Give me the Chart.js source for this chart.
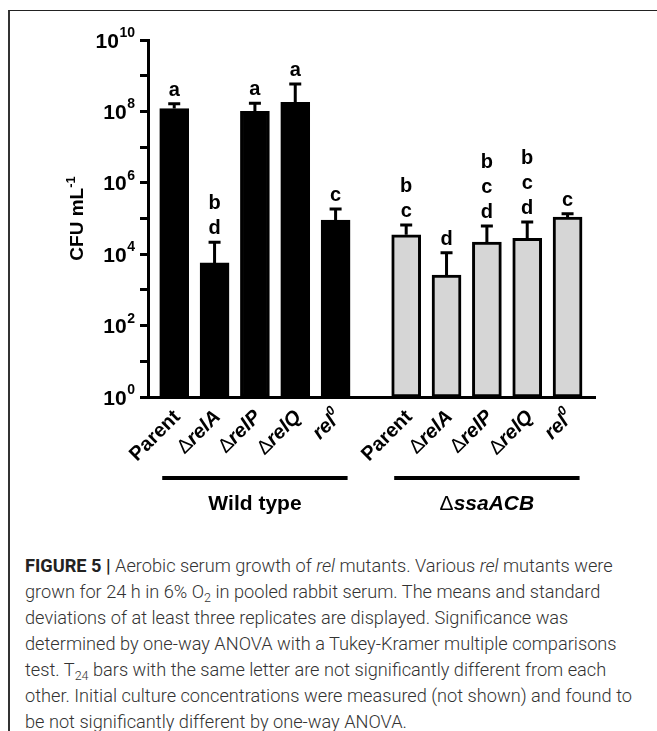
<!DOCTYPE html>
<html>
<head>
<meta charset="utf-8">
<script src="https://cdn.jsdelivr.net/npm/chart.js@4.4.1/dist/chart.umd.min.js"></script>
<style>
  html, body { margin: 0; padding: 0; background: #fff; }
  body { width: 657px; height: 731px; position: relative; overflow: hidden; }
  #frame { position: absolute; left: 8px; top: 10px; width: 700px; height: 800px;
           border-left: 2px solid #333; border-top: 1px solid #222; }
  #chart { position: absolute; left: 0; top: 0; }
  #caption { position: absolute; left: 25px; top: 553px; font-family: Roboto, 'Liberation Sans', sans-serif;
             font-weight: 300; font-size: 18.2px; line-height: 26px; color: #333; white-space: nowrap; }
  #caption b { font-weight: 700; color: #222; }
  #caption sub { font-size: 12.5px; line-height: 0; vertical-align: -4px; }
</style>
</head>
<body>
<div id="frame"></div>
<canvas id="chart" width="657" height="540"></canvas>
<div id="caption">
  <b>FIGURE 5 |</b> Aerobic serum growth of <i>rel</i> mutants. Various <i>rel</i> mutants were<br>
  grown for 24 h in 6% O<sub>2</sub> in pooled rabbit serum. The means and standard<br>
  deviations of at least three replicates are displayed. Significance was<br>
  determined by one-way ANOVA with a Tukey-Kramer multiple comparisons<br>
  test. T<sub>24</sub> bars with the same letter are not significantly different from each<br>
  other. Initial culture concentrations were measured (not shown) and found to<br>
  be not significantly different by one-way ANOVA.
</div>
<script>
// Strains shown in each group
const strains = ['Parent', 'ΔrelA', 'ΔrelP', 'ΔrelQ', 'rel⁰'];
const groups = ['Wild type', 'ΔssaACB'];

// CFU/mL means and standard deviations
const wildTypeMeans = [1.2e8, 5.7e3, 1.0e8, 1.8e8, 9.1e4];
const wildTypeSD = [4.3e7, 1.6e4, 7.0e7, 4.1e8, 9.4e4];
const ssaMeans = [3.5e4, 2.6e3, 2.2e4, 2.8e4, 1.1e5];
const ssaSD = [3.1e4, 8.4e3, 4.0e4, 5.2e4, 2.5e4];

// Tukey-Kramer letters, top to bottom
const wildTypeLetters = [['a'], ['b', 'd'], ['a'], ['a'], ['c']];
const ssaLetters = [['b', 'c'], ['d'], ['b', 'c', 'd'], ['b', 'c', 'd'], ['c']];

// Decades on the y axis, and which of them get a label
const yDecades = [0, 1, 2, 3, 4, 5, 6, 7, 8, 9, 10];
const yLabelled = [0, 2, 4, 6, 8, 10];

const FONT = "'Liberation Sans', Arial, sans-serif";
const GROUP_GAP = 0.75; // extra slots between the two groups

const means = [...wildTypeMeans, ...ssaMeans];
const sds = [...wildTypeSD, ...ssaSD];
const letters = [...wildTypeLetters, ...ssaLetters];
const groupOf = means.map((_, i) => Math.floor(i / strains.length));
const points = means.map((m, i) => ({
    x: groupOf[i] * (strains.length + GROUP_GAP) + (i % strains.length),
    y: m
}));

// Draw a label made of styled pieces, right end (or centre) at the origin
function drawPieces(ctx, pieces, align) {
    let total = 0;
    pieces.forEach(p => { ctx.font = p.font; p.w = ctx.measureText(p.t).width; total += p.w; });
    let x = align === 'center' ? -total / 2 : -total;
    pieces.forEach(p => {
        ctx.font = p.font;
        ctx.fillText(p.t, x, p.dy || 0);
        x += p.w;
    });
}

function strainPieces(name, size) {
    const pieces = [];
    for (const ch of name) {
        if (ch === 'Δ') pieces.push({ t: ch, font: `normal ${size}px ${FONT}` });
        else if (ch === '⁰') pieces.push({ t: '0', font: `italic bold ${Math.round(size * 0.65)}px ${FONT}`, dy: -size * 0.38 });
        else if (name === 'Parent') pieces.push({ t: ch, font: `bold ${size}px ${FONT}` });
        else pieces.push({ t: ch, font: `italic bold ${size}px ${FONT}` });
    }
    return pieces;
}

const decorations = {
    id: 'decorations',
    afterDatasetsDraw(chart) {
        const ctx = chart.ctx;
        const y = chart.scales.y;
        const bars = chart.getDatasetMeta(0).data;

        ctx.save();
        ctx.fillStyle = '#000';
        ctx.strokeStyle = '#000';

        // Upward error bars and significance letters
        bars.forEach((bar, i) => {
            const top = y.getPixelForValue(means[i] + sds[i]);
            ctx.lineWidth = 3;
            ctx.beginPath();
            ctx.moveTo(bar.x, bar.y);
            ctx.lineTo(bar.x, top);
            ctx.moveTo(bar.x - 6, top);
            ctx.lineTo(bar.x + 6, top);
            ctx.stroke();

            ctx.font = `bold 20px ${FONT}`;
            ctx.textAlign = 'center';
            ctx.textBaseline = 'alphabetic';
            const stack = letters[i];
            stack.forEach((l, k) => {
                ctx.fillText(l, bar.x, top - 8 - (stack.length - 1 - k) * 25);
            });
        });

        // Rotated strain labels
        ctx.textAlign = 'left';
        ctx.textBaseline = 'middle';
        bars.forEach((bar, i) => {
            ctx.save();
            ctx.translate(bar.x + 3, 414);
            ctx.rotate(-Math.PI / 4);
            drawPieces(ctx, strainPieces(strains[i % strains.length], 20), 'right');
            ctx.restore();
        });

        // Group underlines and names
        groups.forEach((g, gi) => {
            const first = bars[gi * strains.length];
            const last = bars[gi * strains.length + strains.length - 1];
            ctx.lineWidth = 4;
            ctx.beginPath();
            ctx.moveTo(first.x - 12, 478);
            ctx.lineTo(last.x + 12, 478);
            ctx.stroke();
            ctx.save();
            ctx.translate((first.x + last.x) / 2, 504);
            const pieces = [];
            for (const ch of g) {
                if (ch === 'Δ') pieces.push({ t: ch, font: `normal 21px ${FONT}` });
                else pieces.push({ t: ch, font: `${gi === 1 ? 'italic ' : ''}bold 21px ${FONT}` });
            }
            drawPieces(ctx, pieces, 'center');
            ctx.restore();
        });

        // Y tick labels as 10 with a raised exponent
        ctx.textBaseline = 'alphabetic';
        ctx.textAlign = 'left';
        const right = y.right - 8 - 5;
        yLabelled.forEach(e => {
            const py = y.getPixelForValue(Math.pow(10, e));
            ctx.font = `bold 14px ${FONT}`;
            const ew = ctx.measureText(String(e)).width;
            ctx.fillText(String(e), right - ew, py - 3);
            ctx.font = `bold 21px ${FONT}`;
            const bw = ctx.measureText('10').width;
            ctx.fillText('10', right - ew - bw - 0.5, py + 7.5);
        });

        // Y axis title
        ctx.save();
        ctx.translate(83, (y.top + y.bottom) / 2);
        ctx.rotate(-Math.PI / 2);
        drawPieces(ctx, [
            { t: 'CFU mL', font: `bold 19px ${FONT}` },
            { t: '-1', font: `bold 13px ${FONT}`, dy: -8 }
        ], 'center');
        ctx.restore();

        ctx.restore();
    }
};

new Chart(document.getElementById('chart'), {
    type: 'bar',
    data: {
        datasets: [{
            data: points,
            backgroundColor: groupOf.map(g => g === 0 ? '#000' : '#d6d6d6'),
            borderColor: '#000',
            borderWidth: 3,
            borderSkipped: false,
            barThickness: 29
        }]
    },
    options: {
        responsive: false,
        animation: false,
        devicePixelRatio: 1,
        layout: { padding: { top: 40, right: 62, left: 0, bottom: 0 } },
        plugins: { legend: { display: false }, tooltip: { enabled: false } },
        scales: {
            x: {
                type: 'linear',
                min: -0.65,
                max: 10.43,
                offset: false,
                ticks: { display: false },
                grid: { display: false, offset: false },
                border: { display: true, color: '#000', width: 3 },
                afterFit: s => { s.height = 143; }
            },
            y: {
                type: 'logarithmic',
                min: 1,
                max: 1e10,
                afterBuildTicks: s => { s.ticks = yDecades.map(e => ({ value: Math.pow(10, e) })); },
                ticks: { callback: () => '' },
                grid: { drawOnChartArea: false, drawTicks: true, tickLength: 8, tickWidth: 3, tickColor: '#000' },
                border: { display: true, color: '#000', width: 3 },
                afterFit: s => { s.width = 148; }
            }
        }
    },
    plugins: [decorations]
});
</script>
</body>
</html>
